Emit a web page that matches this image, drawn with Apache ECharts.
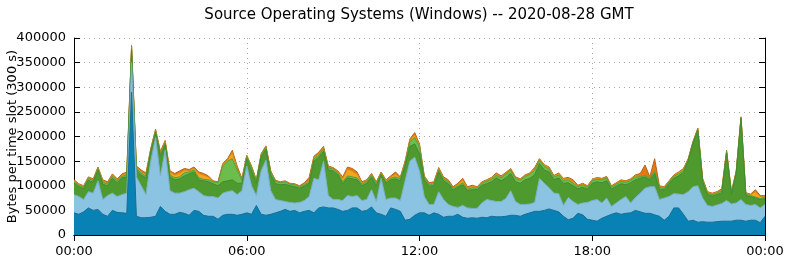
<!DOCTYPE html>
<html>
<head>
<meta charset="utf-8">
<script src="https://cdn.jsdelivr.net/npm/echarts@6/dist/echarts.min.js"></script>
<style>
html,body{margin:0;padding:0;background:#fff;}
#c{width:786px;height:261px;}
</style>
</head>
<body>
<div id="c"></div>
<script>
// 10-minute slots from 00:00 to 24:00 (145 points); values in thousands of bytes per slot
// Each array is the upper edge of that layer (layers drawn bottom to top)
const xTickLabels = ['00:00', '06:00', '12:00', '18:00', '00:00'];
const yTickLabels = ['0','50000','100000','150000','200000','250000','300000','350000','400000'];

const darkBlueTop = [45,42,47,55,50,52,42,38,50,46,45,44,290,38,35,35,36,38,58,48,42,42,46,44,40,50,48,40,38,38,32,40,42,42,40,42,45,42,60,42,40,42,45,48,52,48,50,45,48,50,45,55,57,55,55,52,48,50,55,55,48,50,57,45,42,38,55,52,48,30,32,40,45,45,40,45,42,36,38,38,42,36,34,35,34,36,35,38,37,37,38,40,40,38,42,45,48,48,50,53,50,47,38,31,34,44,41,32,30,28,34,38,42,45,42,44,45,50,47,44,44,41,38,30,38,55,55,42,28,30,26,27,26,26,27,28,28,28,30,30,28,30,30,25,38];
const lightBlueTop = [82,78,72,88,85,110,72,80,85,78,82,85,350,118,100,82,150,198,120,172,90,85,85,88,92,95,88,80,78,78,75,85,88,90,82,90,140,100,80,130,152,90,72,70,68,66,65,66,70,78,115,112,150,80,72,72,70,80,78,80,70,72,92,68,115,72,75,75,70,110,150,158,130,78,62,62,88,72,62,58,56,60,55,54,54,65,72,70,68,68,74,90,68,62,62,63,66,115,105,96,85,84,60,76,68,62,65,66,70,72,65,75,58,65,72,78,65,76,85,95,98,98,72,75,78,84,83,82,88,98,100,75,60,58,61,64,70,63,65,72,62,60,62,55,62];
const darkGreenTop = [105,98,94,111,107,131,103,100,115,106,116,118,375,132,122,116,168,208,160,184,118,112,114,120,124,128,112,110,108,104,100,108,110,112,105,105,155,130,105,158,174,122,104,102,103,100,98,95,99,105,150,158,170,132,130,122,104,116,114,112,100,105,118,100,122,105,112,114,110,140,180,185,165,112,99,100,128,110,104,91,97,102,90,92,92,101,104,108,116,110,116,125,108,105,112,115,122,145,132,128,112,116,105,106,100,94,97,93,105,108,106,110,93,99,104,102,106,112,115,118,112,125,92,92,104,115,120,127,150,186,212,108,82,79,82,86,166,82,125,236,80,78,75,72,74];
const lightGreenTop = [108,101,97,115,110,135,107,104,119,110,119,122,380,135,126,120,172,211,164,187,122,116,118,126,128,132,116,113,112,108,106,140,150,155,132,111,159,137,110,162,178,127,109,106,108,103,102,98,102,108,155,162,175,136,134,126,108,120,118,116,103,109,122,105,125,108,115,118,114,145,190,198,178,117,102,104,132,114,108,94,100,106,93,96,95,105,109,113,121,116,124,132,115,111,119,123,132,152,139,134,117,122,111,112,105,98,102,97,110,113,112,116,97,103,109,107,111,118,118,121,115,130,96,95,107,119,124,131,152,188,214,112,85,82,85,90,168,85,127,238,83,80,77,74,77];
const orangeTop = [110,103,99,117,112,137,110,106,122,112,122,125,382,138,129,123,174,213,167,190,128,122,126,132,131,136,125,122,118,109,107,143,153,168,135,113,161,139,111,164,180,129,110,107,109,104,103,99,104,112,158,165,178,138,136,128,115,134,130,124,106,111,124,107,127,111,118,124,116,148,193,204,182,119,104,106,135,116,110,96,103,112,96,99,97,107,111,116,124,118,126,134,117,113,121,125,135,154,142,137,120,125,114,115,109,100,104,99,112,116,114,118,99,105,111,109,113,121,119,122,116,132,98,97,109,121,127,134,154,189,216,114,87,84,87,92,170,87,129,239,85,82,88,78,79];
const totalTop = [112,104,100,118,114,138,112,108,124,114,124,128,385,140,132,126,176,215,170,192,130,125,130,135,133,138,128,125,120,110,108,145,155,172,140,115,162,140,112,165,181,130,111,108,110,105,104,100,106,117,160,168,180,140,137,130,118,138,135,128,108,112,125,108,128,112,120,128,118,150,195,208,185,120,106,108,137,118,112,98,105,115,98,101,98,108,112,117,126,120,127,135,118,114,122,126,137,155,143,138,121,126,115,117,112,101,105,100,113,117,115,119,100,106,112,110,114,122,125,142,118,155,100,98,110,122,128,135,155,190,217,115,88,85,88,94,172,88,130,240,86,83,92,80,80];

const SLOT_MIN = 10;
const times = darkBlueTop.map((_, i) => {
  const m = i * SLOT_MIN;
  return String(Math.floor(m / 60)).padStart(2, '0') + ':' + String(m % 60).padStart(2, '0');
});
const TICK_EVERY = 36; // 6 hours
const isTick = (i) => i % TICK_EVERY === 0;
const isInnerTick = (i) => i % TICK_EVERY === 0 && i !== 0 && i !== times.length - 1;
const K = 1000;
const toBytes = (arr) => arr.map(v => v * K);

const layers = [
  {name: 'layer6', data: totalTop,     fill: '#e8780e', line: '#b8621a'},
  {name: 'layer5', data: orangeTop,    fill: '#f4a51c', line: '#d08a18'},
  {name: 'layer4', data: lightGreenTop,fill: '#6cbd4c', line: '#5a9e3e'},
  {name: 'layer3', data: darkGreenTop, fill: '#4e9a2f', line: '#458a32'},
  {name: 'layer2', data: lightBlueTop, fill: '#8bc3e2', line: '#7fb0c8'},
  {name: 'layer1', data: darkBlueTop,  fill: '#0882b4', line: '#166f95'}
];

const dotted = {color: '#a8a8a8', width: 1, type: [1, 4]};
const font = 'DejaVu Sans';

const chart = echarts.init(document.getElementById('c'), null, {renderer: 'canvas'});
chart.setOption({
  animation: false,
  backgroundColor: '#ffffff',
  title: {
    text: 'Source Operating Systems (Windows) -- 2020-08-28 GMT',
    left: 414, top: 3, textAlign: 'center',
    textStyle: {fontFamily: font, fontSize: 15, fontWeight: 'normal', color: '#000'}
  },
  grid: {left: 74, right: 21, top: 38, bottom: 26, containLabel: false, outerBoundsMode: 'none'},
  xAxis: [{
    type: 'category', data: times, boundaryGap: false,
    axisLine: {show: true, lineStyle: {color: '#000', width: 1}},
    axisTick: {show: true, inside: true, length: 6, interval: (i) => isTick(i), lineStyle: {color: '#000'}},
    axisLabel: {interval: (i) => isTick(i), margin: 10, color: '#000', fontFamily: font, fontSize: 13,
      formatter: (v, i) => xTickLabels[Math.round(i / TICK_EVERY)]},
    splitLine: {show: true, interval: (i) => isInnerTick(i), lineStyle: dotted}
  }, {
    type: 'category', data: times, boundaryGap: false, position: 'top',
    axisLine: {show: true, lineStyle: {color: '#000', width: 1}},
    axisTick: {show: true, inside: true, length: 6, interval: (i) => isTick(i), lineStyle: {color: '#000'}},
    axisLabel: {show: false}, splitLine: {show: false}
  }],
  yAxis: [{
    type: 'value', min: 0, max: 400000, interval: 50000,
    name: 'Bytes per time slot (300 s)', nameLocation: 'middle', nameGap: 55, nameRotate: 90,
    nameMoveOverlap: false,
    nameTextStyle: {fontFamily: font, fontSize: 13, color: '#000'},
    axisLine: {show: true, lineStyle: {color: '#000', width: 1}},
    axisTick: {show: true, inside: true, length: 6, lineStyle: {color: '#000'}},
    axisLabel: {margin: 8, color: '#000', fontFamily: font, fontSize: 13,
      formatter: (v) => yTickLabels[Math.round(v / 50000)]},
    splitLine: {show: true, lineStyle: dotted}
  }, {
    type: 'value', min: 0, max: 400000, interval: 50000, position: 'right',
    axisLine: {show: true, lineStyle: {color: '#000', width: 1}},
    axisTick: {show: true, inside: true, length: 6, lineStyle: {color: '#000'}},
    axisLabel: {show: false}, splitLine: {show: false}
  }],
  series: layers.map((l, k) => ({
    name: l.name, type: 'line', data: toBytes(l.data),
    symbol: 'none', showSymbol: false, smooth: false, z: 2 + k,
    lineStyle: {color: l.line, width: 1},
    areaStyle: {color: l.fill, opacity: 1},
    emphasis: {disabled: true}
  }))
});
</script>
</body>
</html>
